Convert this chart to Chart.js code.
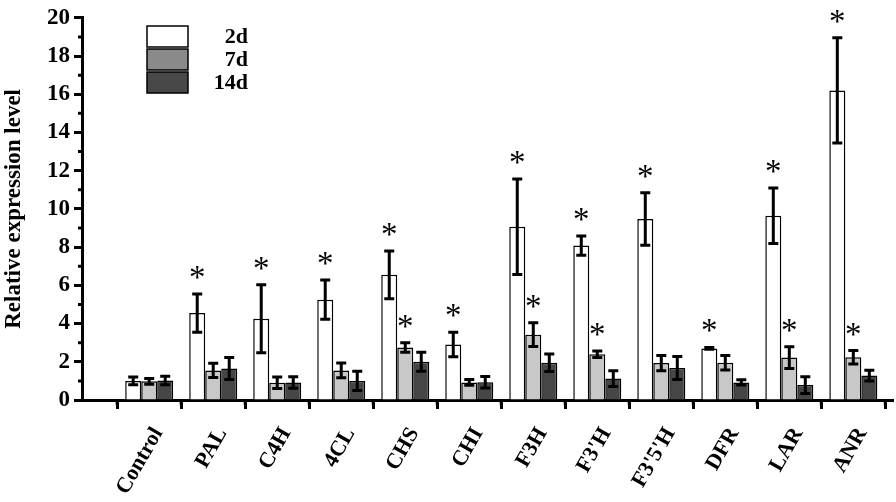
<!DOCTYPE html>
<html>
<head>
<meta charset="utf-8">
<script src="https://cdn.jsdelivr.net/npm/chart.js@4.4.0/dist/chart.umd.min.js"></script>
<style>
  html, body { margin: 0; padding: 0; background: #fff; }
  #wrap { width: 896px; height: 502px; }
</style>
</head>
<body>
<div id="wrap"><canvas id="chart" width="896" height="502"></canvas></div>
<script>
// genes on the x axis
const genes = ["Control", "PAL", "C4H", "4CL", "CHS", "CHI", "F3H", "F3'H", "F3'5'H", "DFR", "LAR", "ANR"];
const seriesNames = ["2d", "7d", "14d"];

// means
const values2d  = [1.0, 4.55, 4.25, 5.25, 6.55, 2.9, 9.07, 8.08, 9.47, 2.7, 9.64, 16.2];
const values7d  = [0.98, 1.55, 0.9, 1.55, 2.75, 0.92, 3.42, 2.4, 1.93, 1.95, 2.22, 2.24];
const values14d = [1.02, 1.65, 0.92, 1.0, 2.0, 0.93, 1.95, 1.12, 1.67, 0.92, 0.78, 1.28];

// error bars (+/-)
const err2d  = [0.2, 1.0, 1.78, 1.03, 1.25, 0.64, 2.5, 0.5, 1.37, 0.05, 1.45, 2.75];
const err7d  = [0.15, 0.37, 0.3, 0.38, 0.25, 0.15, 0.62, 0.17, 0.4, 0.38, 0.57, 0.35];
const err14d = [0.22, 0.58, 0.3, 0.5, 0.5, 0.3, 0.46, 0.41, 0.6, 0.14, 0.44, 0.28];

// significance marks
const sig2d  = [false, true, true, true, true, true, true, true, true, true, true, true];
const sig7d  = [false, false, false, false, true, false, true, true, false, false, true, true];
const sig14d = [false, false, false, false, false, false, false, false, false, false, false, false];

const yTicks = [0, 2, 4, 6, 8, 10, 12, 14, 16, 18, 20];

const barColors = ["#ffffff", "#c8c8c8", "#464646"];
const legendColors = ["#ffffff", "#8a8a8a", "#484848"];
const serif = "'Liberation Serif', 'Times New Roman', serif";

const allValues = [values2d, values7d, values14d];
const allErrors = [err2d, err7d, err14d];
const allSig = [sig2d, sig7d, sig14d];

function toPoints(arr) {
    return arr.map((v, i) => ({ x: i, y: v }));
}

//error bars, stars, minor ticks, legend
const extrasPlugin = {
    id: "extras",
    afterDatasetsDraw(chart) {
        const ctx = chart.ctx;
        const y = chart.scales.y;
        const x = chart.scales.x;
        const area = chart.chartArea;

        ctx.save();
        chart.data.datasets.forEach((ds, d) => {
            const meta = chart.getDatasetMeta(d);
            meta.data.forEach((bar, i) => {
                const v = allValues[d][i];
                const e = allErrors[d][i];
                const top = y.getPixelForValue(v + e);
                const bot = y.getPixelForValue(v - e);
                ctx.strokeStyle = "#000";
                ctx.lineWidth = 3;
                ctx.beginPath();
                ctx.moveTo(bar.x, top);
                ctx.lineTo(bar.x, bot);
                ctx.moveTo(bar.x - 5, top);
                ctx.lineTo(bar.x + 5, top);
                ctx.moveTo(bar.x - 5, bot);
                ctx.lineTo(bar.x + 5, bot);
                ctx.stroke();

                if (allSig[d][i]) {
                    ctx.fillStyle = "#000";
                    ctx.font = "33px " + serif;
                    ctx.textAlign = "center";
                    ctx.textBaseline = "alphabetic";
                    ctx.fillText("*", bar.x, top - 6);
                }
            });
        });

        //minor ticks
        ctx.strokeStyle = "#000";
        ctx.lineWidth = 3;
        ctx.beginPath();
        for (let i = 0; i < yTicks.length - 1; i++) {
            const py = y.getPixelForValue(yTicks[i] + 1);
            ctx.moveTo(area.left - 4, py);
            ctx.lineTo(area.left, py);
        }
        for (let i = 0; i <= genes.length; i++) {
            const px = x.getPixelForValue(i - 0.5);
            ctx.moveTo(px, area.bottom);
            ctx.lineTo(px, area.bottom + 5);
        }
        ctx.stroke();

        //legend
        const lx = 147, ly = 26, lw = 41, lh = 21, gap = 2;
        ctx.font = "bold 22px " + serif;
        ctx.textAlign = "right";
        ctx.textBaseline = "middle";
        chart.data.datasets.forEach((ds, d) => {
            const by = ly + d * (lh + gap);
            ctx.fillStyle = legendColors[d];
            ctx.fillRect(lx, by, lw, lh);
            ctx.strokeStyle = "#000";
            ctx.lineWidth = 1.5;
            ctx.strokeRect(lx, by, lw, lh);
            ctx.fillStyle = "#000";
            ctx.fillText(ds.label, 248, by + lh / 2 + 1);
        });
        ctx.restore();
    }
};

new Chart(document.getElementById("chart"), {
    type: "bar",
    data: {
        datasets: seriesNames.map((name, d) => ({
            label: name,
            data: toPoints(allValues[d]),
            backgroundColor: barColors[d],
            borderColor: "#000",
            borderWidth: 1.5,
            categoryPercentage: 0.75,
            barPercentage: 1
        }))
    },
    options: {
        responsive: false,
        animation: false,
        layout: { padding: { top: 13, right: 3, left: 0, bottom: 0 } },
        plugins: {
            legend: { display: false },
            tooltip: { enabled: false }
        },
        scales: {
            x: {
                type: "linear",
                offset: false,
                min: -1.05,
                max: 11.62,
                afterBuildTicks: (s) => { s.ticks = genes.map((g, i) => ({ value: i })); },
                afterFit: (s) => { s.height = 102; },
                grid: { drawOnChartArea: false, color: "#000", tickLength: 9, tickWidth: 3 },
                border: { color: "#000", width: 3 },
                ticks: {
                    color: "#000",
                    minRotation: 60,
                    maxRotation: 60,
                    autoSkip: false,
                    padding: 14,
                    labelOffset: 9,
                    font: { family: serif, size: 22, weight: "bold" },
                    callback: (v) => genes[v]
                }
            },
            y: {
                min: 0,
                max: 20,
                afterBuildTicks: (s) => { s.ticks = yTicks.map(v => ({ value: v })); },
                afterFit: (s) => { s.width = 82; },
                grid: { drawOnChartArea: false, color: "#000", tickLength: 8, tickWidth: 3 },
                border: { color: "#000", width: 3 },
                title: {
                    display: true,
                    text: "Relative expression level",
                    color: "#000",
                    padding: 0,
                    font: { family: serif, size: 23, weight: "bold" }
                },
                ticks: {
                    color: "#000",
                    padding: 4,
                    font: { family: serif, size: 23, weight: "bold" }
                }
            }
        }
    },
    plugins: [extrasPlugin]
});
</script>
</body>
</html>
